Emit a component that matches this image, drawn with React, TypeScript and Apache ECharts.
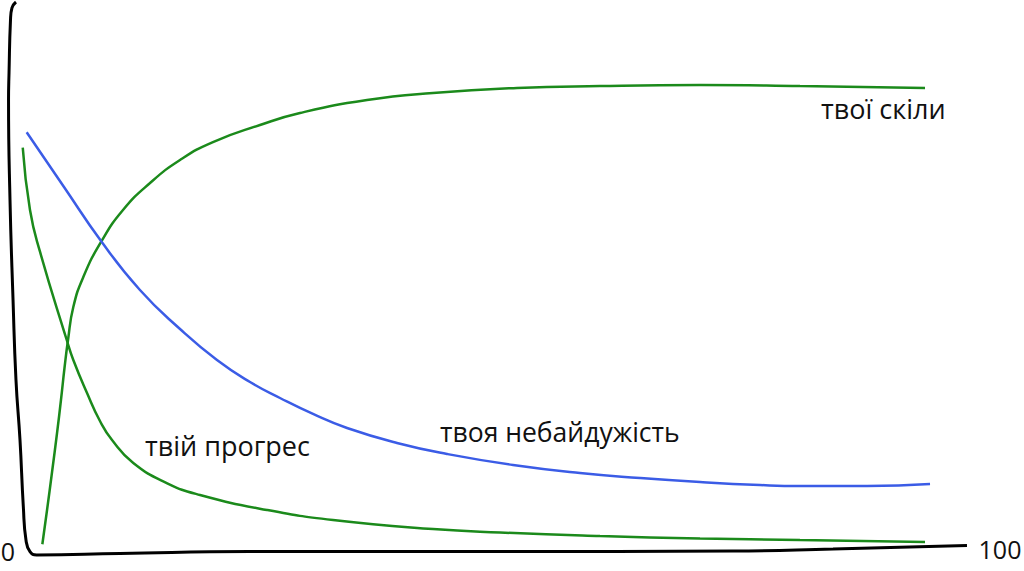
import React, { useEffect, useRef } from "react";
import * as echarts from "echarts";

// x: 0..100, y: 0..100 (hand-drawn sketch chart)
const skills: number[][] = [
  [2.28, 1.93], [2.76, 8.11], [3.27, 14.95], [3.78, 21.98], [4.18, 27.93],
  [4.54, 33.69], [4.90, 38.74], [5.44, 44.68], [6.46, 50.09], [8.27, 56.40],
  [10.51, 62.16], [13.27, 67.03], [16.33, 71.17], [19.69, 74.41],
  [24.49, 77.48], [28.57, 79.64], [35.41, 81.98], [42.14, 83.24],
  [50.71, 84.14], [59.18, 84.5], [69.39, 84.68], [79.59, 84.5], [92.35, 84.14],
];

const care: number[][] = [
  [0.68, 76.16], [4.49, 66.31], [8.27, 56.58], [12.24, 47.75], [16.33, 40.72],
  [20.10, 35.14], [23.47, 31.17], [26.53, 28.29], [29.90, 25.41],
  [33.37, 22.88], [38.47, 20.18], [43.57, 18.20], [50.31, 16.22],
  [57.14, 14.77], [63.27, 13.87], [69.39, 13.15], [75.51, 12.61],
  [79.59, 12.43], [86.43, 12.43], [92.86, 12.79],
];

const progress: number[][] = [
  [0.28, 73.39], [1.02, 62.16], [2.04, 54.65], [4.77, 38.74], [5.44, 35.14],
  [6.84, 29.19], [8.16, 24.14], [9.39, 20.72], [11.56, 16.58],
  [14.97, 12.97], [18.37, 10.81], [25.20, 8.11], [31.94, 6.31],
  [42.14, 4.68], [48.98, 4.05], [59.18, 3.42], [69.39, 2.97],
  [79.59, 2.70], [92.35, 2.34],
];

// hand-drawn axes (y axis curling into the x axis)
const axisLine: number[][] = [
  [-0.41, 99.64], [-0.82, 98.56], [-0.97, 96.4], [-1.12, 86.85], [-1.17, 81.98],
  [-1.02, 63.96], [-0.71, 45.95], [-0.41, 31.53], [0, 20.72], [0.34, 8.7],
  [0.61, 2.7], [1.02, 0.59], [1.7, 0], [10.2, 0.27], [23.47, 0.63],
  [48.98, 0.63], [72.76, 0.72], [82.96, 1.08], [96.63, 1.71],
];

const tickLabels = ["0", "100"];
const seriesLabels = ["твої скіли", "твоя небайдужість", "твій прогрес"];

const GREEN = "#1b8a1b";
const BLUE = "#3b5ce6";
const FONT = "'Open Sans', 'Noto Sans', sans-serif";

export default function App() {
  const ref = useRef<HTMLDivElement>(null);
  useEffect(() => {
    if (!ref.current) return;
    const chart = echarts.init(ref.current, null, { renderer: "svg" });
    const line = (name: string, data: number[][], color: string, width: number) => ({
      type: "line",
      name,
      data,
      smooth: 0.5,
      showSymbol: false,
      symbol: "none",
      clip: false,
      silent: true,
      lineStyle: { color, width },
    });
    const txt = (text: string, x: number, y: number, size: number, align = "left") => ({
      type: "text",
      x,
      y,
      style: {
        text,
        font: `${size}px ${FONT}`,
        fill: "#111",
        align,
        verticalAlign: "middle",
      },
    });
    chart.setOption({
      animation: false,
      backgroundColor: "#fff",
      grid: { left: 0.4, right: 24, top: 0, bottom: 16 },
      xAxis: { type: "value", min: -2, max: 100, show: false },
      yAxis: { type: "value", min: 0, max: 100, show: false },
      series: [
        line("axes", axisLine, "#000", 3),
        line(seriesLabels[0], skills, GREEN, 2.5),
        line(seriesLabels[1], care, BLUE, 2.5),
        line(seriesLabels[2], progress, GREEN, 2.5),
      ],
      graphic: [
        txt(tickLabels[0], 8, 551, 25, "center"),
        txt(tickLabels[1], 1000, 549, 25, "center"),
        txt(seriesLabels[0], 821, 108, 27),
        txt(seriesLabels[1], 440, 432, 26.5),
        txt(seriesLabels[2], 145, 445, 27),
      ],
    });
    return () => chart.dispose();
  }, []);
  return (
    <div
      ref={ref}
      style={{ position: "fixed", left: 0, top: 0, width: 1024, height: 571 }}
    />
  );
}
